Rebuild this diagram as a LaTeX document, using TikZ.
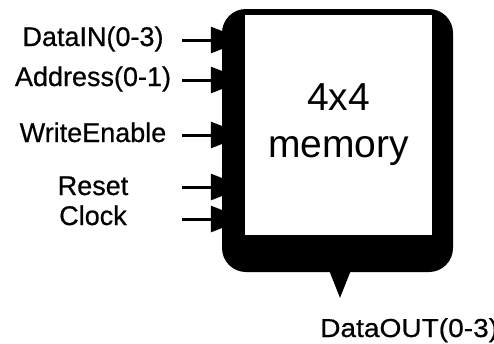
\documentclass[tikz,border=0pt]{standalone}
\usepackage{fontspec}
\setmainfont{Liberation Sans}
\newfontfamily\pinfont[FakeBold=0.6]{Liberation Sans}
\usetikzlibrary{arrows.meta}

\tikzset{
  sig/.style={line width=3pt, -{Triangle[length=34pt,width=26pt]}},
  pinlabel/.style={anchor=base, inner sep=0pt, font=\pinfont\fontsize{27}{30}\selectfont},
  framebox/.style={fill=black, rounded corners=24pt, minimum width=231pt, minimum height=263pt, inner sep=0pt},
  membox/.style={fill=white, minimum width=187pt, minimum height=220pt, inner sep=0pt},
  memtext/.style={align=center, inner sep=0pt, font=\fontsize{39}{47}\selectfont}
}

\begin{document}
\begin{tikzpicture}[x=1pt, y=-1pt]
  \useasboundingbox (0,0) rectangle (494,343);
  \clip (0,0) rectangle (494,343);

  % memory block: heavy rounded frame with white face
  \node[framebox] (frame) at (337.5,140.5) {};
  \node[membox] (mem) at (338.5,125) {};
  \node[memtext] (memlbl) at (mem.center) {4x4\\memory};

  % input pins
  \node[pinlabel] (din)  at (93,46)  {DataIN(0-3)};
  \node[pinlabel] (addr) at (93,86)  {Address(0-1)};
  \node[pinlabel] (we)   at (93,142) {WriteEnable};
  \node[pinlabel] (rst)  at (93,195) {Reset};
  \node[pinlabel] (clk)  at (93,225) {Clock};

  \coordinate (sdin)  at (182,40);
  \coordinate (saddr) at (182,80);
  \coordinate (swe)   at (182,135);
  \coordinate (srst)  at (182,187);
  \coordinate (sclk)  at (182,219);

  \draw[sig] (sdin)  -- (sdin  -| mem.west);
  \draw[sig] (saddr) -- (saddr -| mem.west);
  \draw[sig] (swe)   -- (swe   -| mem.west);
  \draw[sig] (srst)  -- (srst  -| mem.west);
  \draw[sig] (sclk)  -- (sclk  -| mem.west);

  % output pin
  \coordinate (dout) at (340,298);
  \draw[sig] (dout |- mem.south) -- (dout);
  \node[anchor=base west, inner sep=0pt, font=\pinfont\fontsize{26}{30}\selectfont, xscale=1.08] (doutlbl) at (320,337) {DataOUT(0-3)};
\end{tikzpicture}
\end{document}
